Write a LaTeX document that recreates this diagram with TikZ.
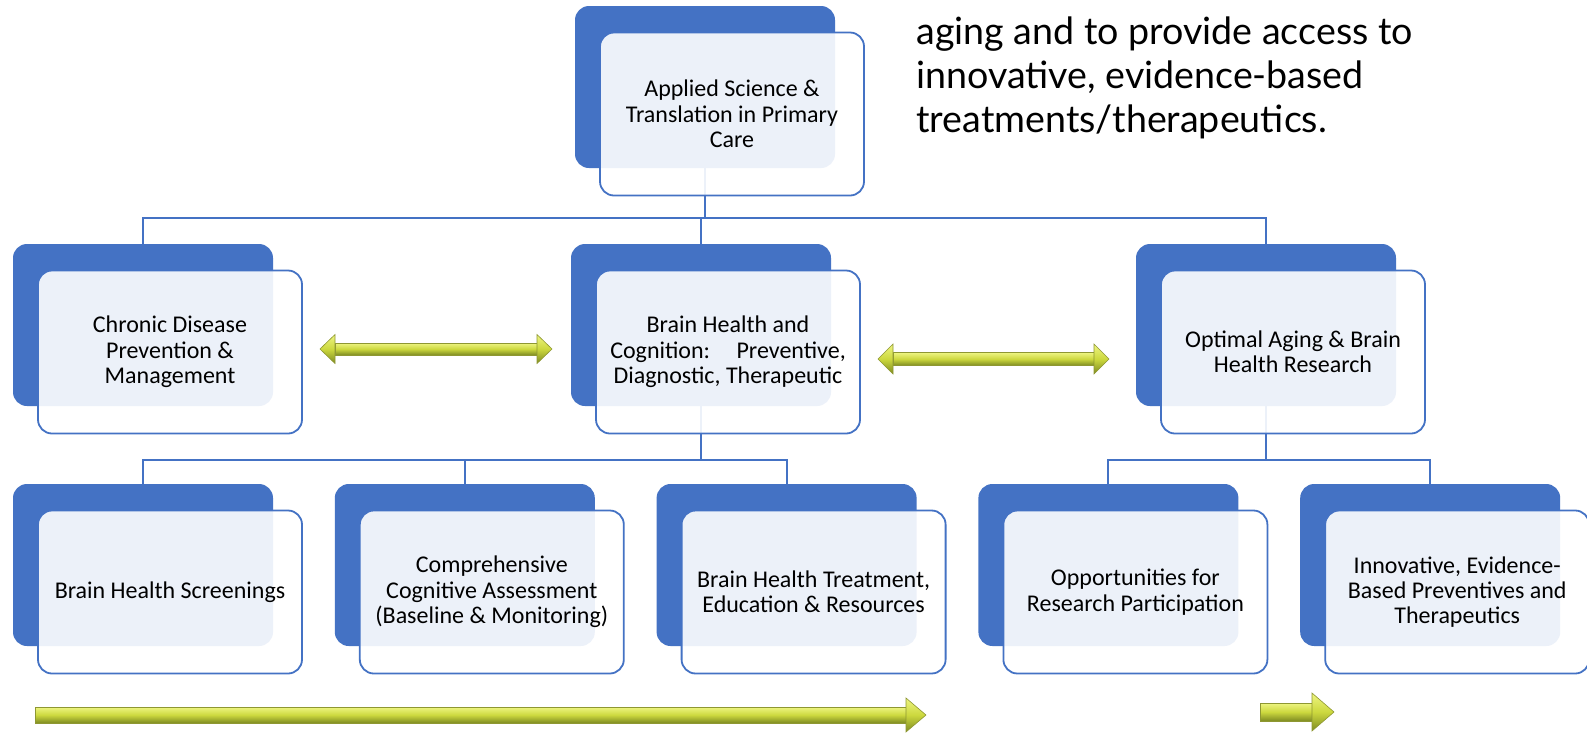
\documentclass[tikz,border=0pt]{standalone}
\usepackage{fontspec}
\setmainfont{Carlito}
\newfontfamily\missionfont{Lato}
\usetikzlibrary{positioning}

\definecolor{boxblue}{HTML}{4472C4}
\definecolor{arrowhi}{HTML}{EEF582}
\definecolor{arrowmid}{HTML}{CCD83E}
\definecolor{arrowlo}{HTML}{7E8B22}
\definecolor{arrowedge}{HTML}{8E9732}

\begin{document}
\begin{tikzpicture}[
        x=0.5pt, y=-0.5pt,
        node distance=30.5pt,
        back/.style={fill=boxblue, rounded corners=7pt, minimum width=130pt, minimum height=81pt, inner sep=0pt},
        front/.style={draw=boxblue, line width=0.9pt, fill=white, fill opacity=0.9, text opacity=1, rounded corners=7pt,
            minimum width=132pt, minimum height=81.5pt, inner sep=2pt, align=center,
            font=\fontsize{12}{12.7}\selectfont, xshift=13.5pt, yshift=-13.5pt},
        link/.style={draw=boxblue, line width=1pt},
        arrowbody/.style={top color=arrowhi, bottom color=arrowlo, middle color=arrowmid, draw=arrowedge, line width=0.3pt}
    ]

    \path[use as bounding box, fill=white] (0,0) rectangle (1587,735);

    % blue cards behind
    \node[back] (top) at (705,87) {};
    \node[back] (chronic) at (143,325) {};
    \node[back] (brain) at (701,325) {};
    \node[back] (optimal) at (1266,325) {};
    \node[back] (screen) at (143,565) {};
    \node[back, right=of screen] (assess) {};
    \node[back, right=of assess] (treat) {};
    \node[back, right=of treat] (partic) {};
    \node[back, right=of partic] (innov) {};

    % tree lines
    \coordinate (bus1) at (705,218);
    \coordinate (bus2) at (701,460);
    \coordinate (bus3) at (1266,460);
    \draw[link] (top.south) -- (bus1);
    \draw[link] (chronic.north) |- (bus1) -| (optimal.north);
    \draw[link] (brain.north) -- (brain.north |- bus1);
    \draw[link] (brain.south) -- (bus2);
    \draw[link] (screen.north) |- (bus2) -| (treat.north);
    \draw[link] (assess.north) -- (assess.north |- bus2);
    \draw[link] (optimal.south) -- (bus3);
    \draw[link] (partic.north) |- (bus3) -| (innov.north);

    % text cards in front
    \node[front] (topcard) at (top) {Applied Science \&\\Translation in Primary\\Care};
    \node[front] (chroniccard) at (chronic) {Chronic Disease\\Prevention \&\\Management};
    \node[front] (braincard) at (brain) {Brain Health and\\Cognition:\hspace{1.1em}Preventive,\\Diagnostic, Therapeutic};
    \node[front] (optimalcard) at (optimal) {Optimal Aging \& Brain\\Health Research};
    \node[front] (screencard) at (screen) {Brain Health Screenings};
    \node[front] (assesscard) at (assess) {Comprehensive\\Cognitive Assessment\\(Baseline \& Monitoring)};
    \node[front] (treatcard) at (treat) {Brain Health Treatment,\\Education \& Resources};
    \node[front] (particcard) at (partic) {Opportunities for\\Research Participation};
    \node[front] (innovcard) at (innov) {Innovative, Evidence-\\Based Preventives and\\Therapeutics};

    % green arrows
    \path[arrowbody] (335,343) rectangle (537,355);
    \path[arrowbody] (320,349) -- (335,334.5) -- (335,363.5) -- cycle;
    \path[arrowbody] (552,349) -- (537,334.5) -- (537,363.5) -- cycle;

    \path[arrowbody] (893,352.5) rectangle (1094,365.5);
    \path[arrowbody] (878,359) -- (893,344) -- (893,374) -- cycle;
    \path[arrowbody] (1109,359) -- (1094,344) -- (1094,374) -- cycle;

    \path[arrowbody] (35,707) rectangle (906,723);
    \path[arrowbody] (926,715) -- (906,698) -- (906,732) -- cycle;

    \path[arrowbody] (1260,703) rectangle (1312,721);
    \path[arrowbody] (1334,712) -- (1312,693) -- (1312,731) -- cycle;

    % mission text
    \node[anchor=north west, inner sep=0pt, align=left, font=\missionfont\fontsize{18.8}{22}\selectfont] (mission) at (916,16)
        {aging and to provide access to\\innovative, evidence-based\\treatments/therapeutics.};

\end{tikzpicture}
\end{document}
